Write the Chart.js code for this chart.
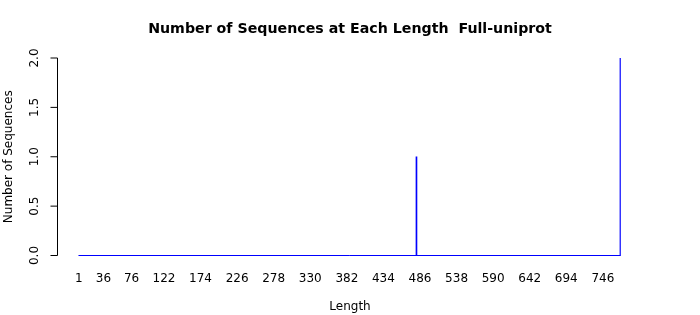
<!DOCTYPE html>
<html><head><meta charset="utf-8">
<script src="https://cdn.jsdelivr.net/npm/chart.js@4/dist/chart.umd.min.js"></script>
<style>html,body{margin:0;padding:0;background:#fff;overflow:hidden}</style>
</head><body>
<canvas id="c" width="700" height="315"></canvas>
<script>
// ---- data ----
const lengthMin = 1;
const lengthMax = 771;
const barLengths = [481, 771];
const barCounts = [1, 2];
const xTickLabels = ['1','36','76','122','174','226','278','330','382','434','486','538','590','642','694','746'];
const yTickValues = [0, 0.5, 1, 1.5, 2];
const yTickLabels = ['0.0','0.5','1.0','1.5','2.0'];
const titleText = 'Number of Sequences at Each Length  Full-uniprot';
const xTitle = 'Length';
const yTitle = 'Number of Sequences';

// table of every length with its count (zero where no sequence)
const categories = [];
const counts = [];
for (let L = lengthMin; L <= lengthMax; L++) {
  categories.push(String(L));
  const k = barLengths.indexOf(L);
  counts.push(k >= 0 ? barCounts[k] : 0);
}

const FONT = '"DejaVu Sans", sans-serif';
const BLUE = '#0000FF';

const rDecor = {
  id: 'rDecor',
  beforeDatasetsDraw(chart) {
    const ctx = chart.ctx, xs = chart.scales.x, ys = chart.scales.y;
    const half = xs.width / categories.length / 2 * (1 / 1.2);
    const y0 = ys.getPixelForValue(0);
    ctx.save();
    ctx.strokeStyle = BLUE; ctx.lineWidth = 1;
    ctx.beginPath();
    ctx.moveTo(xs.getPixelForValue(0) - half, y0);
    ctx.lineTo(xs.getPixelForValue(categories.length - 1) + half, y0);
    ctx.stroke();
    ctx.restore();
  },
  afterDraw(chart) {
    const ctx = chart.ctx, xs = chart.scales.x, ys = chart.scales.y;
    ctx.save();
    ctx.fillStyle = '#000';
    // title
    ctx.font = 'bold 14.2px ' + FONT;
    ctx.textAlign = 'center'; ctx.textBaseline = 'middle';
    ctx.fillText(titleText, 350, 29);
    // y axis line & ticks
    const axX = 57.5;
    ctx.strokeStyle = '#000'; ctx.lineWidth = 1;
    ctx.beginPath();
    ctx.moveTo(axX, ys.getPixelForValue(yTickValues[0]));
    ctx.lineTo(axX, ys.getPixelForValue(yTickValues[yTickValues.length - 1]));
    yTickValues.forEach(v => {
      const py = ys.getPixelForValue(v);
      ctx.moveTo(axX, py); ctx.lineTo(axX - 7, py);
    });
    ctx.stroke();
    // y tick labels (rotated)
    ctx.font = '12px ' + FONT;
    yTickValues.forEach((v, i) => {
      const py = ys.getPixelForValue(v);
      ctx.save();
      ctx.translate(axX - 23, py);
      ctx.rotate(-Math.PI / 2);
      ctx.textAlign = 'center'; ctx.textBaseline = 'middle';
      ctx.fillText(yTickLabels[i], 0, 0);
      ctx.restore();
    });
    // y title
    ctx.save();
    ctx.translate(9, (chart.chartArea.top + chart.chartArea.bottom) / 2);
    ctx.rotate(-Math.PI / 2);
    ctx.textAlign = 'center'; ctx.textBaseline = 'middle';
    ctx.fillText(yTitle, 0, 0);
    ctx.restore();
    // x tick labels
    ctx.textAlign = 'center'; ctx.textBaseline = 'middle';
    xTickLabels.forEach(lbl => {
      const idx = categories.indexOf(lbl);
      ctx.fillText(lbl, xs.getPixelForValue(idx), 279);
    });
    // x title
    ctx.fillText(xTitle, 350, 307);
    ctx.restore();
  }
};

new Chart(document.getElementById('c'), {
  type: 'bar',
  data: {
    labels: categories,
    datasets: [{
      data: counts,
      backgroundColor: BLUE,
      borderWidth: 0,
      barThickness: 1
    }]
  },
  options: {
    responsive: false,
    devicePixelRatio: 1,
    animation: false,
    layout: { padding: { left: 78.5, right: 79.2, top: 58, bottom: 59.5 } },
    plugins: { legend: { display: false }, tooltip: { enabled: false }, title: { display: false } },
    scales: {
      x: { display: false },
      y: { display: false, min: 0, max: 2 }
    }
  },
  plugins: [rDecor]
});
</script>
</body></html>
